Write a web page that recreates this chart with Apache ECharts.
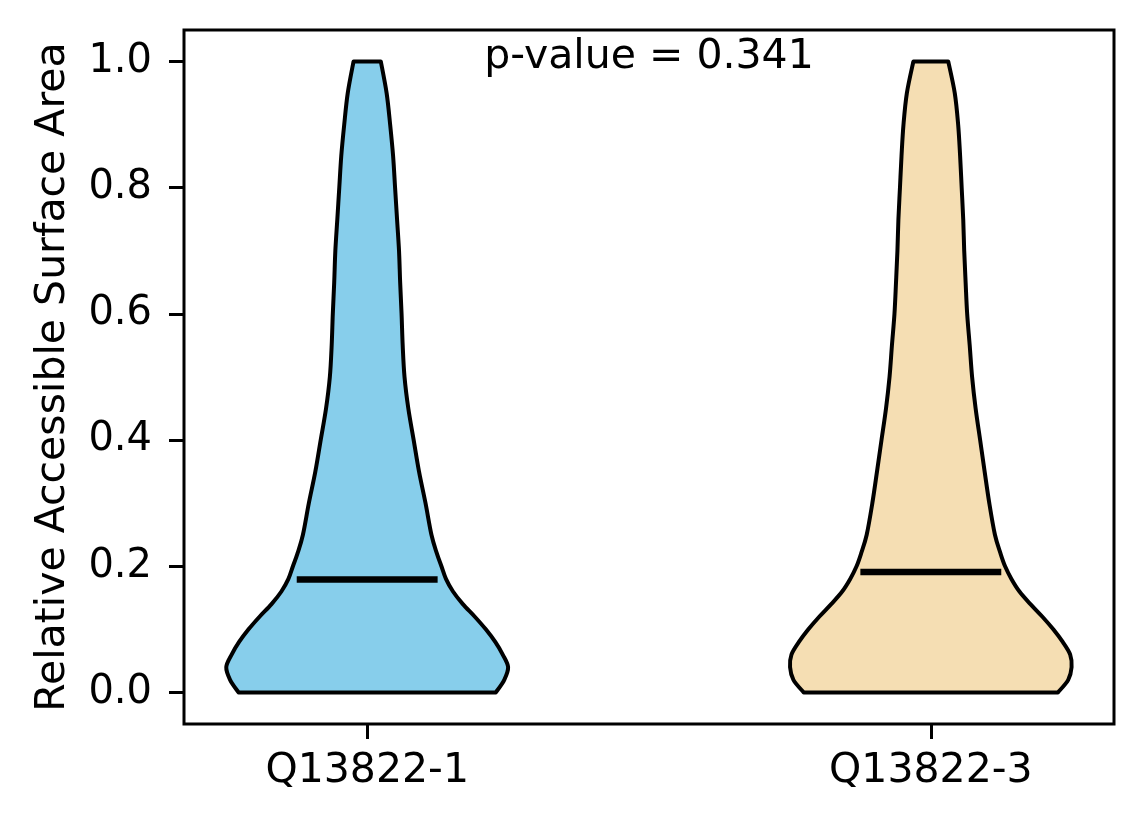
<!DOCTYPE html>
<html>
<head>
<meta charset="utf-8">
<script src="https://cdn.jsdelivr.net/npm/echarts@6/dist/echarts.min.js"></script>
<style>
  html, body { margin: 0; padding: 0; background: #fff; }
  #main { width: 1144px; height: 824px; }
</style>
</head>
<body>
<div id="main"></div>
<script>
var categories = ['Q13822-1', 'Q13822-3'];
var yLevels = [0, 0.02, 0.04, 0.06, 0.08, 0.10, 0.12, 0.14, 0.16, 0.18, 0.20, 0.22, 0.25,
  0.30, 0.35, 0.40, 0.45, 0.50, 0.55, 0.60, 0.65, 0.70, 0.75, 0.80, 0.85, 0.90, 0.95, 1.00];
// relative density (1 = widest point) at each y level
var densityQ1 = [0.913, 0.973, 1.0, 0.962, 0.909, 0.842, 0.764, 0.679, 0.609, 0.559, 0.527, 0.495, 0.456,
  0.414, 0.368, 0.330, 0.292, 0.265, 0.252, 0.244, 0.234, 0.226, 0.212, 0.198, 0.184, 0.163, 0.138, 0.097];
var densityQ3 = [0.902, 0.975, 0.999, 0.989, 0.936, 0.869, 0.792, 0.707, 0.629, 0.572, 0.527, 0.495, 0.455,
  0.415, 0.382, 0.350, 0.318, 0.293, 0.276, 0.258, 0.247, 0.237, 0.230, 0.219, 0.208, 0.194, 0.170, 0.124];
var medians = [0.179, 0.191];
var yTicks = [0, 0.2, 0.4, 0.6, 0.8, 1.0];
var pValueText = 'p-value = 0.341';

var colors = ['#87CEEB', '#F5DEB3'];
var densities = [densityQ1, densityQ3];
var violinHalf = 0.25;
var medianHalf = 0.125;
var font = 'DejaVu Sans';

var chartDom = document.getElementById('main');
var myChart = echarts.init(chartDom);

// catmull-rom through the outline points, straight ends
function sidePath(pts) {
  var d = '';
  for (var i = 0; i < pts.length - 1; i++) {
    var p0 = pts[Math.max(i - 1, 0)];
    var p1 = pts[i];
    var p2 = pts[i + 1];
    var p3 = pts[Math.min(i + 2, pts.length - 1)];
    var c1x = p1[0] + (p2[0] - p0[0]) / 6, c1y = p1[1] + (p2[1] - p0[1]) / 6;
    var c2x = p2[0] - (p3[0] - p1[0]) / 6, c2y = p2[1] - (p3[1] - p1[1]) / 6;
    d += ' C' + c1x + ' ' + c1y + ' ' + c2x + ' ' + c2y + ' ' + p2[0] + ' ' + p2[1];
  }
  return d;
}

function renderViolin(params, api) {
  var idx = api.value(0);
  var dens = densities[idx];
  var right = [];
  var left = [];
  for (var i = 0; i < yLevels.length; i++) {
    right.push(api.coord([idx + violinHalf * dens[i], yLevels[i]]));
    left.push(api.coord([idx - violinHalf * dens[i], yLevels[i]]));
  }
  left.reverse();
  var path = 'M' + right[0][0] + ' ' + right[0][1] + sidePath(right) +
    ' L' + left[0][0] + ' ' + left[0][1] + sidePath(left) + ' Z';
  var m0 = api.coord([idx - medianHalf, medians[idx]]);
  var m1 = api.coord([idx + medianHalf, medians[idx]]);
  return {
    type: 'group',
    children: [
      {
        type: 'path',
        shape: { pathData: path },
        style: { fill: colors[idx], stroke: '#000', lineWidth: 4, lineJoin: 'round' }
      },
      {
        type: 'line',
        shape: { x1: m0[0], y1: m0[1], x2: m1[0], y2: m1[1] },
        style: { stroke: '#000', lineWidth: 6.5 }
      }
    ]
  };
}

var option = {
  animation: false,
  grid: {
    left: 184, right: 30, top: 30, bottom: 100,
    outerBoundsMode: 'none',
    show: true, borderColor: '#000', borderWidth: 3
  },
  xAxis: {
    type: 'value',
    min: -0.325,
    max: 1.325,
    splitLine: { show: false },
    axisLine: { show: false, onZero: false },
    axisTick: {
      show: true, customValues: [0, 1], length: 15,
      lineStyle: { color: '#000', width: 3 }
    },
    axisLabel: {
      customValues: [0, 1],
      formatter: function (v) { return categories[Math.round(v)]; },
      margin: 27, color: '#000', fontSize: 41, fontFamily: font
    }
  },
  yAxis: {
    type: 'value',
    min: -0.05,
    max: 1.05,
    name: 'Relative Accessible Surface Area',
    nameLocation: 'middle',
    nameGap: 110,
    nameTextStyle: { color: '#000', fontSize: 41, fontFamily: font },
    splitLine: { show: false },
    axisLine: { show: false, onZero: false },
    axisTick: {
      show: true, customValues: yTicks, length: 15,
      lineStyle: { color: '#000', width: 3 }
    },
    axisLabel: {
      customValues: yTicks,
      formatter: function (v) { return v.toFixed(1); },
      margin: 32, color: '#000', fontSize: 40, fontFamily: font
    }
  },
  graphic: [
    {
      type: 'text',
      x: 649,
      y: 57,
      style: {
        text: pValueText,
        textAlign: 'center',
        textVerticalAlign: 'middle',
        fill: '#000',
        font: '41px "DejaVu Sans"'
      }
    }
  ],
  series: [
    {
      type: 'custom',
      renderItem: renderViolin,
      data: [[0], [1]],
      encode: { x: 0 },
      clip: false
    }
  ]
};

option && myChart.setOption(option);
</script>
</body>
</html>
